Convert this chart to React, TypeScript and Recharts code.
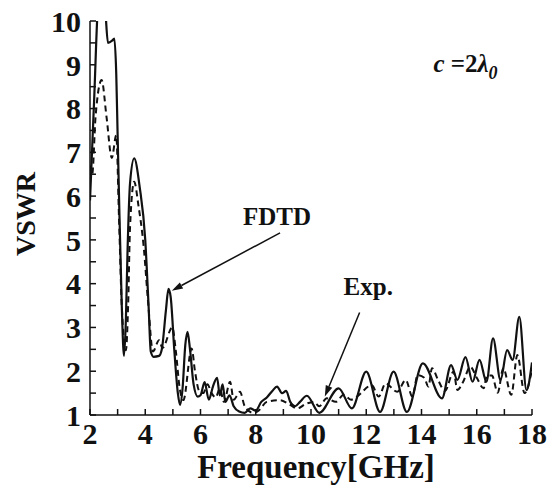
import React from 'react';
import {
  LineChart,
  Line,
  XAxis,
  YAxis,
  ReferenceLine,
  ReferenceDot,
} from 'recharts';

// FDTD (solid)
const fdtdFreq = [
  2.0, 2.15, 2.3, 2.45, 2.56, 2.65, 2.8, 2.88, 2.95, 3.0, 3.05, 3.15, 3.23, 3.3, 3.36, 3.45, 3.6, 3.8,
  4.0, 4.12, 4.2, 4.3, 4.5, 4.6, 4.75, 4.84, 4.92, 5.05, 5.18, 5.26, 5.35, 5.45, 5.53, 5.62, 5.75, 5.9,
  6.0, 6.15, 6.3, 6.45, 6.6, 6.7, 6.8, 6.9, 7.05, 7.2, 7.4, 7.6, 7.8, 8.0, 8.2, 8.4, 8.6, 8.77, 8.95,
  9.1, 9.25, 9.43, 9.6, 9.85, 10.3, 11.0, 11.48, 12.0, 12.5, 12.99, 13.47, 14.05, 14.74, 15.07, 15.3,
  15.59, 15.85, 16.1, 16.35, 16.59, 16.86, 17.1, 17.3, 17.54, 17.8, 18.0,
];
const fdtdVswr = [
  5.9, 8.2, 10.5, 11.0, 10.2, 9.5, 9.55, 9.6, 8.8, 7.4, 6.0, 3.5, 2.35, 3.2, 4.77, 6.3, 6.86, 6.2,
  5.0, 3.5, 2.45, 2.33, 2.35, 2.5, 3.4, 3.88, 3.7, 2.5, 1.5, 1.23, 1.6, 2.6, 2.9, 2.5, 1.7, 1.42,
  1.45, 1.75, 1.35, 1.65, 1.85, 1.45, 1.7, 1.3, 1.45, 1.2, 1.08, 1.05, 1.15, 1.1, 1.3, 1.4, 1.55, 1.65, 1.5,
  1.55, 1.3, 1.2, 1.3, 1.44, 1.05, 1.61, 1.15, 1.99, 1.07, 1.99, 1.07, 2.18, 1.38, 2.14, 1.8,
  2.32, 1.76, 2.26, 1.76, 2.75, 1.8, 2.48, 2.26, 3.24, 1.57, 2.2,
];

// Exp. (dashed)
const expFreq = [
  2.0, 2.08, 2.2, 2.42, 2.6, 2.79, 2.95, 3.05, 3.15, 3.3, 3.38, 3.45, 3.6, 3.75, 3.95, 4.1, 4.28, 4.5,
  4.62, 4.98, 5.1, 5.25, 5.38, 5.68, 5.8, 5.95, 6.1, 6.25, 6.4, 6.55, 6.7, 6.85, 7.07, 7.2, 7.43, 7.6,
  7.9, 8.1, 8.4, 8.88, 9.2, 9.5, 9.8, 10.1, 10.3, 10.57, 10.9, 11.18, 11.45, 11.66, 12.2, 12.45, 12.7,
  13.12, 13.43, 13.67, 13.86, 14.1, 14.25, 14.38, 14.6, 14.85, 15.16, 15.3, 15.5, 15.77, 16.0, 16.25,
  16.37, 16.55, 16.76, 16.96, 17.25, 17.47, 17.73, 18.0,
];
const expVswr = [
  6.7, 6.5, 7.8, 8.65, 7.8, 6.87, 7.39, 5.5, 3.5, 2.48, 3.5, 5.3, 6.33, 5.8, 4.8, 3.6, 2.45, 2.71,
  2.53, 3.0, 2.5, 1.6, 1.34, 2.52, 2.0, 1.55, 1.5, 1.7, 1.5, 1.4, 1.6, 1.3, 1.76, 1.35, 1.53, 1.2,
  1.05, 1.1, 1.3, 1.34, 1.25, 1.15, 1.25, 1.3, 1.2, 1.38, 1.3, 1.46, 1.35, 1.42, 1.68, 1.42, 1.72,
  1.53, 1.8, 1.42, 1.91, 1.85, 1.65, 2.07, 1.8, 1.55, 1.99, 1.57, 1.75, 2.1, 1.85, 1.61,
  1.9, 1.9, 1.51, 2.07, 1.46, 2.37, 1.5, 2.03,
];

const xTicks = [2, 3, 4, 5, 6, 7, 8, 9, 10, 11, 12, 13, 14, 15, 16, 17, 18];
const yTicks = [1, 1.5, 2, 2.5, 3, 3.5, 4, 4.5, 5, 5.5, 6, 6.5, 7, 7.5, 8, 8.5, 9, 9.5, 10];

const fdtdData = fdtdFreq.map((f, i) => ({ f, v: fdtdVswr[i] }));
const expData = expFreq.map((f, i) => ({ f, v: expVswr[i] }));

const INK = '#111';
const TICK = 6;

const BottomTick = (p: any) => {
  const val = p.payload.value;
  return (
    <g>
      <line x1={p.x} y1={p.y} x2={p.x} y2={p.y - TICK} stroke={INK} strokeWidth={1.5} />
      {val % 2 === 0 && (
        <text x={p.x} y={p.y + 8} dy="0.71em" textAnchor="middle" fontSize={30} fill={INK}>
          {val}
        </text>
      )}
    </g>
  );
};

const TopTick = (p: any) => (
  <line x1={p.x} y1={p.y} x2={p.x} y2={p.y + TICK} stroke={INK} strokeWidth={1.5} />
);

const LeftTick = (p: any) => {
  const val = p.payload.value;
  return (
    <g>
      <line x1={p.x} y1={p.y} x2={p.x + TICK} y2={p.y} stroke={INK} strokeWidth={1.5} />
      {Number.isInteger(val) && (
        <text x={p.x - 9} y={p.y} dy="0.36em" textAnchor="end" fontSize={30} fill={INK}>
          {val}
        </text>
      )}
    </g>
  );
};

const RightTick = (p: any) => (
  <line x1={p.x} y1={p.y} x2={p.x - TICK} y2={p.y} stroke={INK} strokeWidth={1.5} />
);

const XTitle = (p: any) => {
  const vb = p.viewBox;
  return (
    <text x={vb.x + vb.width / 2 + 5} y={vb.y + 63} textAnchor="middle" fontSize={33} fill={INK}>
      Frequency[GHz]
    </text>
  );
};

const YTitle = (p: any) => {
  const vb = p.viewBox;
  const cx = 25;
  const cy = vb.y + vb.height / 2 - 4;
  return (
    <text x={cx} y={cy} transform={`rotate(-90 ${cx} ${cy})`} dy="0.35em" textAnchor="middle" fontSize={28} fill={INK}>
      VSWR
    </text>
  );
};

const Arrow = (p: any) => {
  const { x1, y1, x2, y2 } = p;
  const a = Math.atan2(y2 - y1, x2 - x1);
  const L = 11;
  const W = 3.5;
  const bx = x2 - L * Math.cos(a);
  const by = y2 - L * Math.sin(a);
  const nx = -Math.sin(a) * W;
  const ny = Math.cos(a) * W;
  return (
    <g>
      <line x1={x1} y1={y1} x2={bx} y2={by} stroke={INK} strokeWidth={1.5} />
      <polygon points={`${x2},${y2} ${bx + nx},${by + ny} ${bx - nx},${by - ny}`} fill={INK} />
    </g>
  );
};

const label = (text: string) => (p: any) => (
  <text x={p.cx} y={p.cy} fontSize={25} fill={INK}>
    {text}
  </text>
);

const CLabel = (p: any) => (
  <text x={p.cx} y={p.cy} fontSize={25} fill={INK}>
    <tspan fontStyle="italic">c</tspan>
    <tspan> =2</tspan>
    <tspan fontStyle="italic">λ</tspan>
    <tspan fontStyle="italic" fontSize={18} dy={7}>0</tspan>
  </text>
);

export default function App() {
  return (
    <div
      style={{
        position: 'absolute',
        left: 0,
        top: 0,
        width: 550,
        height: 489,
        background: '#fff',
        fontFamily: '"Times New Roman", "Liberation Serif", Times, serif',
        fontWeight: 'bold',
      }}
    >
      <LineChart width={550} height={489} margin={{ top: 21, right: 18, bottom: 0, left: 0 }}>
        <XAxis
          xAxisId="b"
          type="number"
          dataKey="f"
          domain={[2, 18]}
          ticks={xTicks}
          interval={0}
          allowDataOverflow
          height={74}
          tickSize={0}
          tickMargin={0}
          tickLine={false}
          tick={BottomTick}
          axisLine={{ stroke: INK, strokeWidth: 1.5 }}
          label={<XTitle />}
        />
        <XAxis
          xAxisId="t"
          orientation="top"
          type="number"
          domain={[2, 18]}
          ticks={xTicks}
          interval={0}
          height={0}
          tickSize={0}
          tickMargin={0}
          tickLine={false}
          tick={TopTick}
          axisLine={{ stroke: INK, strokeWidth: 1.5 }}
        />
        <YAxis
          yAxisId="l"
          type="number"
          domain={[1, 10]}
          ticks={yTicks}
          interval={0}
          allowDataOverflow
          width={90}
          tickSize={0}
          tickMargin={0}
          tickLine={false}
          tick={LeftTick}
          axisLine={{ stroke: INK, strokeWidth: 1.5 }}
          label={<YTitle />}
        />
        <YAxis
          yAxisId="r"
          orientation="right"
          type="number"
          domain={[1, 10]}
          ticks={yTicks}
          interval={0}
          width={0}
          tickSize={0}
          tickMargin={0}
          tickLine={false}
          tick={RightTick}
          axisLine={{ stroke: INK, strokeWidth: 1.5 }}
        />
        <Line
          xAxisId="b"
          yAxisId="l"
          data={expData}
          dataKey="v"
          type="monotone"
          stroke={INK}
          strokeWidth={2}
          strokeDasharray="6 4"
          dot={false}
          isAnimationActive={false}
        />
        <Line
          xAxisId="b"
          yAxisId="l"
          data={fdtdData}
          dataKey="v"
          type="monotone"
          stroke={INK}
          strokeWidth={2.2}
          dot={false}
          isAnimationActive={false}
        />
        <ReferenceLine xAxisId="b" yAxisId="l" segment={[{ x: 8.88, y: 5.16 }, { x: 4.96, y: 3.84 }]} shape={Arrow} />
        <ReferenceLine xAxisId="b" yAxisId="l" segment={[{ x: 11.76, y: 3.34 }, { x: 10.5, y: 1.42 }]} shape={Arrow} />
        <ReferenceDot xAxisId="b" yAxisId="l" x={7.54} y={5.34} shape={label('FDTD')} />
        <ReferenceDot xAxisId="b" yAxisId="l" x={11.18} y={3.74} shape={label('Exp.')} />
        <ReferenceDot xAxisId="b" yAxisId="l" x={14.43} y={8.83} shape={CLabel} />
      </LineChart>
    </div>
  );
}
